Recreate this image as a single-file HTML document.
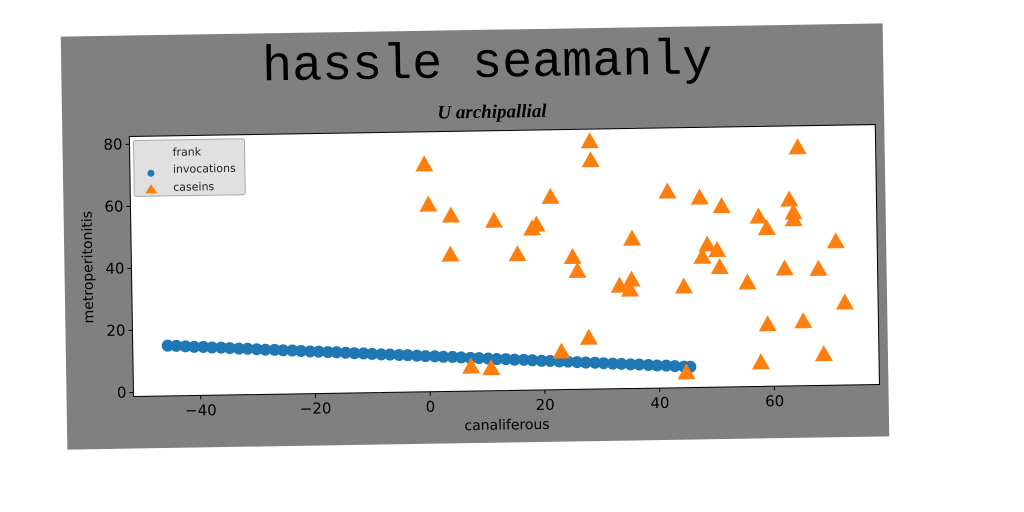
<!DOCTYPE html>
<html><head><meta charset="utf-8"><style>
html,body{margin:0;padding:0;background:#fff;width:1024px;height:512px;overflow:hidden}
text{font-family:"DejaVu Sans","Liberation Sans",sans-serif}
</style></head><body>
<svg id="chart" width="1024" height="512" viewBox="0 0 1024 512" xmlns="http://www.w3.org/2000/svg">
<g id="fig" transform="rotate(-0.92 475 236)">
<rect x="64" y="30" width="822" height="413" fill="#808080"/>
<text x="490" y="77" font-size="50" text-anchor="middle" style="font-family:'Liberation Mono',monospace" fill="#000">hassle seamanly</text>
<text x="494" y="118" font-size="19" text-anchor="middle" font-style="italic" font-weight="bold" style="font-family:'Liberation Serif',serif" fill="#000">U archipallial</text>
<rect x="131" y="131" width="746" height="260" fill="#fff" stroke="#000" stroke-width="1"/>
<g id="axes"></g>
<g id="marks"></g>
<text x="504" y="430" font-size="14" text-anchor="middle" fill="#000">canaliferous</text>
<text transform="translate(92 261) rotate(-90)" font-size="14" text-anchor="middle" fill="#000">metroperitonitis</text>
<g>
<rect x="135" y="135" width="111" height="56" rx="2" fill="#e0e0e0" stroke="#aaa"/>
<text x="174" y="151" font-size="11" fill="#222">frank</text>
<circle cx="152" cy="168" r="3.5" fill="#1f77b4"/>
<text x="174" y="168" font-size="11" fill="#222">invocations</text>
<polygon points="152,179 158,188 146,188" fill="#ff7f0e"/>
<text x="174" y="186" font-size="11" fill="#222">caseins</text>
</g>
</g>
</svg>
<script>
const xTicks = [-40, -20, 0, 20, 40, 60];
const yTicks = [0, 20, 40, 60, 80];
const blueX = [-45.6,-44.1,-42.5,-41.0,-39.4,-37.9,-36.3,-34.8,-33.2,-31.7,-30.1,-28.6,-27.0,-25.5,-23.9,-22.4,-20.8,-19.3,-17.7,-16.2,-14.6,-13.1,-11.5,-10.0,-8.4,-6.9,-5.3,-3.8,-2.2,-0.7,0.9,2.4,4.0,5.5,7.1,8.6,10.2,11.7,13.3,14.8,16.4,17.9,19.5,21.0,22.6,24.1,25.7,27.2,28.8,30.3,31.9,33.4,35.0,36.5,38.1,39.6,41.2,42.7,44.3,45.4];
const blueY = [14.9,14.8,14.6,14.4,14.3,14.1,14.0,13.8,13.6,13.5,13.3,13.1,13.0,12.8,12.7,12.5,12.3,12.2,12.0,11.9,11.7,11.5,11.4,11.2,11.0,10.9,10.7,10.6,10.4,10.2,10.1,9.9,9.8,9.6,9.4,9.3,9.1,8.9,8.8,8.6,8.5,8.3,8.1,8.0,7.8,7.7,7.5,7.3,7.2,7.0,6.8,6.7,6.5,6.4,6.2,6.0,5.9,5.7,5.5,5.4];
const orangeX = [-0.4,0.2,4.1,3.9,11.6,15.6,18.2,19.0,21.5,28.5,28.6,25.2,26.0,27.8,23.0,7.2,10.7,35.6,33.3,35.4,35.1,41.9,44.5,44.7,47.5,51.3,48.7,47.8,50.4,50.8,55.6,57.7,59.1,59.0,57.7,62.1,63.1,63.8,63.8,64.7,65.2,68.0,68.7,71.1,72.5];
const orangeY = [72,59,55.4,42.8,53.5,42.6,50.8,52,60.9,78.6,72.5,41.4,36.9,15.3,11.0,6.6,6.0,47,31.9,33.8,30.6,62,31.3,3.6,59.9,57,44.7,40.8,42.9,37.4,32.3,53.5,49.7,18.7,6.5,36.6,58.8,54.6,52.4,75.6,19.5,36.3,8.8,45.1,25.3];
const L=131,T=131,W=746,H=260,XMIN=-51.7,XMAX=78.3,YMIN=-1.3,YMAX=82.5;
function sx(v){return L+(v-XMIN)/(XMAX-XMIN)*W;}
function sy(v){return T+H-(v-YMIN)/(YMAX-YMIN)*H;}
const NS='http://www.w3.org/2000/svg';
const axes=document.getElementById('axes'), marks=document.getElementById('marks');
function mk(tag,attrs,parent){const e=document.createElementNS(NS,tag);for(const k in attrs)e.setAttribute(k,attrs[k]);parent.appendChild(e);return e;}
xTicks.forEach(v=>{
  const t=mk('line',{x1:sx(v),x2:sx(v),y1:T+H,y2:T+H+4,stroke:'#000'},axes);
  
  
  const l=mk('text',{x:sx(v),y:T+H+20,'font-size':15,'text-anchor':'middle',fill:'#000'},axes);
  l.textContent=(v<0?'\u2212'+(-v):''+v);
  
  
});
yTicks.forEach(v=>{
  const t=mk('line',{x1:L-4,x2:L,y1:sy(v),y2:sy(v),stroke:'#000'},axes);
  
  
  const l=mk('text',{x:L-7,y:sy(v)+5,'font-size':15,'text-anchor':'end',fill:'#000'},axes);
  l.textContent=''+v;
  
  
});
blueX.forEach((v,i)=>{
  const c=mk('circle',{cx:sx(v),cy:sy(blueY[i]),r:6,fill:'#1f77b4'},marks);
  
  
});
orangeX.forEach((v,i)=>{
  const x=sx(v),y=sy(orangeY[i]);
  const p=mk('polygon',{points:`${x},${y-9} ${x+9},${y+7} ${x-9},${y+7}`,fill:'#ff7f0e'},marks);
  
  
});
</script>
</body></html>
